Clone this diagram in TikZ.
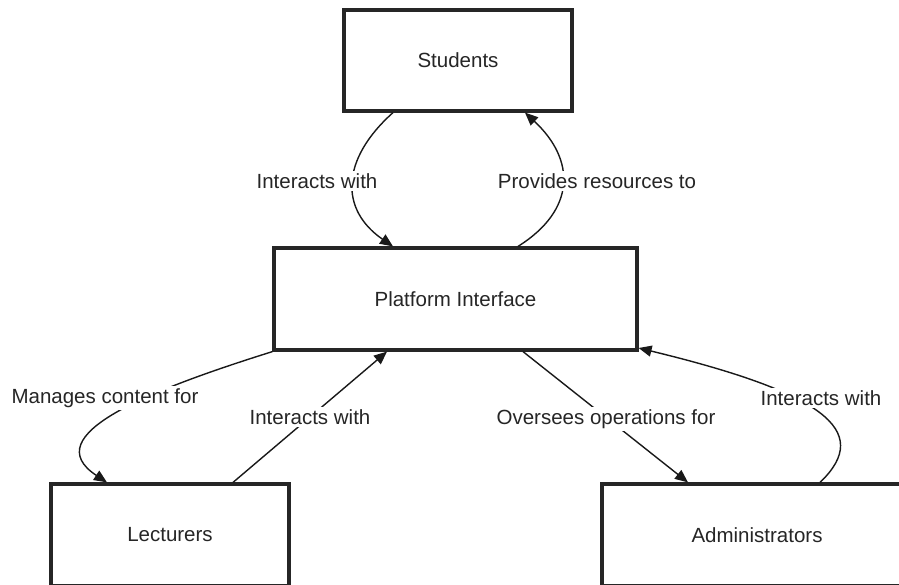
\documentclass[tikz,border=0pt]{standalone}
\usepackage{fontspec}
\setmainfont{Liberation Sans}
\usetikzlibrary{arrows.meta,calc}
\begin{document}
\begin{tikzpicture}[x=1pt,y=-1pt,
  box/.style={draw=black!85,line width=3.2pt,fill=white,inner sep=0pt,font=\fontsize{20.5}{24}\selectfont,text=black!85},
  conn/.style={draw=black!90,line width=1.4pt,-{Triangle[length=13pt,width=11pt]}},
  lbl/.style={fill=white,inner sep=2pt,font=\fontsize{20.5}{24}\selectfont,text=black!85}]
\useasboundingbox (0,0) rectangle (899,584);
\clip (0,0) rectangle (899,584);
\fill[white] (0,0) rectangle (899,584);
\node[box,minimum width=228pt,minimum height=101pt] (stu) at (458,60.5) {Students};
\node[box,minimum width=363pt,minimum height=102pt] (plat) at (455.5,299) {Platform Interface};
\node[box,minimum width=238pt,minimum height=102pt] (lec) at (170,535) {Lecturers};
\node[box,minimum width=310pt,minimum height=102pt] (adm) at (757,535) {Administrators};
% Students -> Platform
\draw[conn] (393,0 |- stu.south) .. controls (340,160) and (340,210) .. (393,0 |- plat.north);
\node[lbl] (l1) at (317,181) {Interacts with};
% Platform -> Students
\draw[conn] (518,0 |- plat.north) .. controls (576,210) and (576,160) .. (525,0 |- stu.south);
\node[lbl] (l2) at (597,181) {Provides resources to};
% Platform -> Lecturers
\draw[conn] (plat.south west) .. controls (150,390) and (35,435) .. (107,0 |- lec.north);
\node[lbl] (l3) at (105,398) {Manages content for};
% Lecturers -> Platform
\draw[conn] (233,0 |- lec.north) -- (387,0 |- plat.south);
\node[lbl] (l4) at (310,417) {Interacts with};
% Platform -> Administrators
\draw[conn] (523,0 |- plat.south) -- (688,0 |- adm.north);
\node[lbl] (l5) at (606,419) {Oversees operations for};
% Administrators -> Platform
\draw[conn] (820,0 |- adm.north) .. controls (875,430) and (820,392) .. (plat.east |- 0,348);
\node[lbl] (l6) at (821,398) {Interacts with};
\end{tikzpicture}
\end{document}
